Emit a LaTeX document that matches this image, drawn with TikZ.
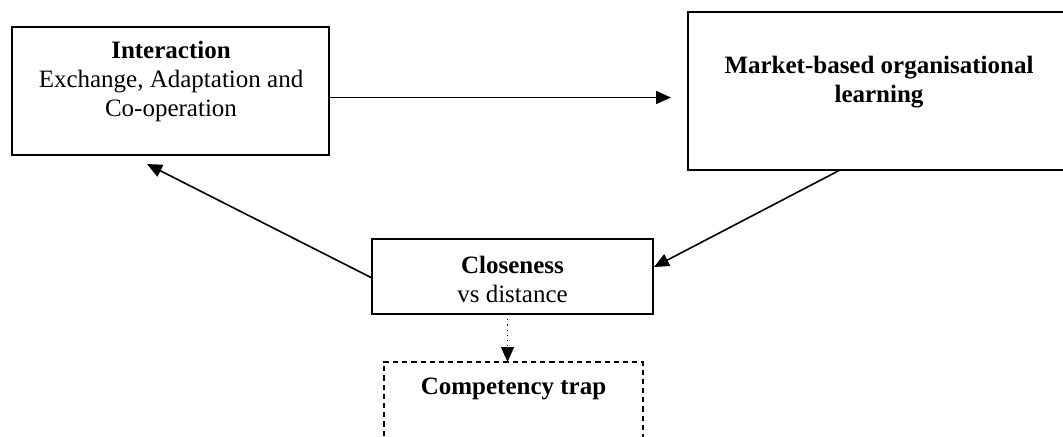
\documentclass[tikz,border=0pt]{standalone}
\usepackage{fontspec}
\setmainfont{Liberation Serif}
\usetikzlibrary{arrows.meta,calc}
\begin{document}
\begin{tikzpicture}[x=0.5pt,y=-0.5pt,
  box/.style={draw,line width=0.85pt,inner sep=0pt,outer sep=0pt},
  txt/.style={align=center,font=\fontsize{12.5}{14.5}\selectfont,inner sep=0pt},
  conn/.style={line width=0.8pt,-{Triangle[length=7.5pt,width=6.5pt]}}]
\useasboundingbox (0,0) rectangle (1063,436);
\clip (0,0) rectangle (1063,436);
% boxes
\node[box,minimum width=158.5pt,minimum height=64pt] (inter) at (170.5,91) {};
\node[txt] (intertxt) at (171,81) {\textbf{Interaction}\\Exchange, Adaptation and\\Co-operation};
\node[box,minimum width=191pt,minimum height=79pt] (market) at (879,91) {};
\node[txt] (markettxt) at (879,82) {\textbf{Market-based organisational}\\\textbf{learning}};
\node[box,minimum width=140.5pt,minimum height=37.5pt] (clo) at (512.5,276.5) {};
\node[txt] (clotxt) at (512.5,279) {\textbf{Closeness}\\vs distance};
\draw[line width=0.85pt,dash pattern=on 2.6pt off 2pt] (384,445) coordinate (ctl) -- (384,362) -- (643,362) coordinate (ctr) -- (643,445);
\coordinate (comp) at (513.5,362);
\node[txt] (comptxt) at (513.5,389) {\textbf{Competency trap}};
% connectors
\coordinate (a1e) at (671,97.5);
\draw[conn] (inter.east |- a1e) -- (a1e);
\coordinate (a2s) at (840,170);
\coordinate (a2e) at (654,267);
\draw[conn] (a2s) -- (a2e);
\coordinate (a3s) at (372,278);
\coordinate (a3e) at (147,164);
\draw[conn] (a3s) -- (a3e);
\draw[line width=0.6pt,dotted,-{Triangle[length=7.5pt,width=6.5pt]}] (clo.south -| comp) ++(-6,0) -- ($(comp)+(-6,0)$);
\end{tikzpicture}
\end{document}
